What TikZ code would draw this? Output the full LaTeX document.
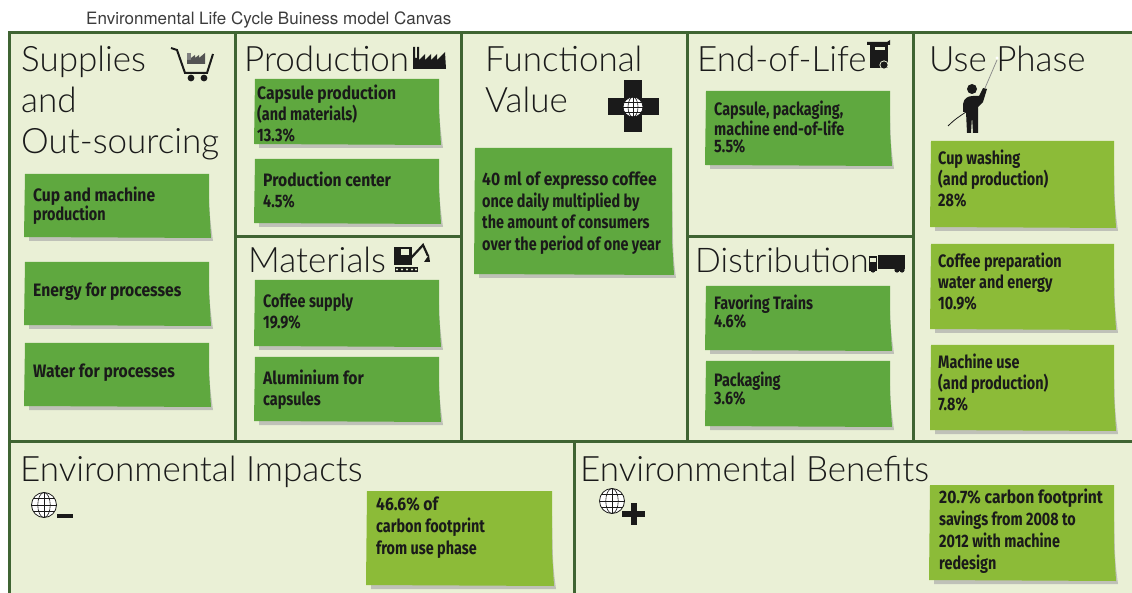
\documentclass[tikz,border=0pt]{standalone}
\usepackage{fontspec}
\setmainfont{Lato Light}
\newfontfamily\capfont{TeX Gyre Heros}
\newfontfamily\notefont[FakeStretch=0.8,BoldFont={Fira Sans Bold}]{Fira Sans}
\newfontfamily\notewide[FakeStretch=0.87,BoldFont={Fira Sans Bold}]{Fira Sans}
\definecolor{frame}{HTML}{3F6432}
\definecolor{paper}{HTML}{EAF0D6}
\definecolor{noteA}{HTML}{5FA83F}
\definecolor{noteB}{HTML}{8CBB38}
\definecolor{noteshadow}{HTML}{BFC1B8}
\definecolor{ink}{HTML}{1A1A1A}
\tikzset{
  panel/.style={draw=frame,fill=paper,line width=3pt},
  head/.style={anchor=base west,inner sep=0pt,font=\fontsize{35}{35}\selectfont,text=ink},
  notetext/.style={anchor=north west,inner sep=0pt,align=left,text=ink,
     font=\notefont\bfseries\fontsize{18}{#1}\selectfont},
  notetext/.default=21,
  icon/.style={fill=ink,draw=none},
}
% name, x1,y1,x2,y2, colour, text x, text y, leading, text
\newcommand\stickynote[9]{%
  \fill[noteshadow] (#2+4,#5-6) -- (#4,#3+25) .. controls (#4+1,#5-20) .. (#4+4,#5+3) -- (#2+4,#5+3) -- cycle;
  \fill[#6] (#2,#3) -- (#4,#3) -- (#4,#5-35) .. controls (#4+.5,#5-18) .. (#4+2,#5) -- (#2-1,#5-1) -- cycle;
  \node[notetext=#9] (#1) at (#7,#8)
}
\newcommand\globeicon[3]{%
  \begin{scope}[shift={(#1,#2)}]
    \fill[white] (0,0) circle[radius=#3];
    \draw[ink,line width=.8pt] (0,0) circle[radius=#3];
    \draw[ink,line width=.6pt] (0,0) ellipse[x radius=.5*#3,y radius=#3];
    \draw[ink,line width=.6pt] (0,-#3) -- (0,#3) (-#3,0) -- (#3,0);
    \draw[ink,line width=.6pt] (-.87*#3,-.5*#3) -- (.87*#3,-.5*#3) (-.87*#3,.5*#3) -- (.87*#3,.5*#3);
  \end{scope}}
\begin{document}
\begin{tikzpicture}[x=1pt,y=-1pt]
\useasboundingbox (0,0) rectangle (1132,593);
\fill[white] (0,0) rectangle (1132,593);

% panels
\draw[panel] (9,33) rectangle (235,441);
\draw[panel] (235,33) rectangle (461,237);
\draw[panel] (235,237) rectangle (461,441);
\draw[panel] (461,33) rectangle (687,441);
\draw[panel] (687,33) rectangle (913,237);
\draw[panel] (687,237) rectangle (913,441);
\draw[panel] (913,33) rectangle (1136,441);
\draw[panel] (9,441) rectangle (574,600);
\draw[panel] (574,441) rectangle (1136,600);

% caption
\node[anchor=base west,inner sep=0pt,font=\capfont\fontsize{17}{17}\selectfont,text=ink!85] (caption) at (86,25) {Environmental Life Cycle Buiness model Canvas};

% headings
\node[head] (h1a) at (21,72) {Supplies};
\node[head] (h1b) at (21,113) {and};
\node[head] (h1c) at (21,154) {Out-sourcing};
\node[head] (h2) at (244,72) {Production};
\node[head] (h3) at (248,273) {Materials};
\node[head] (h4a) at (485,72) {Functional};
\node[head] (h4b) at (485,113) {Value};
\node[head] (h5) at (697,72) {End-of-Life};
\node[head,font=\fontsize{34}{34}\selectfont] (h6) at (695,273) {Distribution};
\node[head] (h7) at (929,72) {Use Phase};
\node[head] (h8) at (20,481) {Environmental Impacts};
\node[head] (h9) at (580,481) {Environmental Benefits};

% notes
\stickynote{n1}{25}{174}{209}{238}{noteA}{33}{187}{19}{\notewide Cup and machine\\production};
\stickynote{n2}{25}{262}{209}{326}{noteA}{33}{283}{19}{\notewide Energy for processes};
\stickynote{n3}{25}{343}{209}{407}{noteA}{33}{364}{19}{\notewide Water for processes};
\stickynote{n4}{255}{79}{439}{145}{noteA}{257}{85}{21}{\notewide Capsule production\\(and materials)\\13.3\%};
\stickynote{n5}{255}{159}{439}{224}{noteA}{263}{172}{21}{\notewide Production center\\4.5\%};
\stickynote{n6}{255}{280}{439}{347}{noteA}{263}{294}{21}{Coffee supply\\19.9\%};
\stickynote{n7}{255}{357}{439}{422}{noteA}{263}{370}{21}{\notewide Aluminium for\\capsules};
\stickynote{n8}{475}{148}{672}{275}{noteA}{482}{172}{21.5}{\notewide 40 ml of expresso coffee\\once daily multiplied by\\the amount of consumers\\{\notefont over the period of one year}};
\stickynote{n9}{706}{91}{890}{166}{noteA}{714}{101}{17.5}{Capsule, packaging,\\machine end-of-life\\5.5\%};
\stickynote{n10}{706}{286}{890}{351}{noteA}{714}{295}{17.5}{Favoring Trains\\4.6\%};
\stickynote{n11}{706}{361}{890}{427}{noteA}{714}{372}{17.5}{Packaging\\3.6\%};
\stickynote{n12}{931}{141}{1114}{228}{noteB}{938}{150}{21}{Cup washing\\(and production)\\28\%};
\stickynote{n13}{931}{244}{1114}{330}{noteB}{938}{253}{21}{Coffee preparation\\water and energy\\10.9\%};
\stickynote{n14}{931}{345}{1114}{431}{noteB}{938}{354}{21}{Machine use\\(and production)\\7.8\%};
\stickynote{n15}{367}{491}{552}{586}{noteB}{376}{497}{22}{\notewide 46.6\% of\\carbon footprint\\from use phase};
\stickynote{n16}{930}{485}{1114}{581}{noteB}{939}{489}{22}{\notewide 20.7\% carbon footprint\\savings from 2008 to\\2012 with machine\\redesign};

% cart
\draw[ink,line width=2pt] (171,48) -- (177,50) -- (185,73) -- (207,73) -- (213,54);
\fill[ink] (191,78) circle[radius=3.4] (204,78) circle[radius=3.4];
\fill[ink!55] (187,53) rectangle (191,64);
\fill[ink!75] (187,64) -- (187,60) -- (191,60) -- (191,58) -- (195,55) -- (195,58) -- (199,55) -- (199,58) -- (205,53) -- (205,64) -- cycle;

% factory
\fill[ink] (413,69) -- (413,47) -- (415,47) -- (415,58) -- (417,58) -- (417,47) -- (419,47) -- (419,60)
  -- (425,54) -- (425,60) -- (431,54) -- (431,60) -- (437,54) -- (437,60) -- (445,52) -- (446,69) -- cycle;

% excavator
\fill[ink] (394,247) rectangle (412,265);
\fill[paper] (401,249) rectangle (409,255);
\fill[ink] (395,267) rectangle (418,272);
\foreach \i in {397,402,407,412,416} {\fill[paper] (\i,269.5) circle[radius=1.2];}
\draw[ink,line width=2.2pt] (411,258) -- (423,245) -- (428,256);
\fill[ink] (429,255) -- (430,262) -- (424,262) -- (426,259) -- cycle;

% functional cross + globe
\fill[ink] (624,80) rectangle (642,132);
\fill[ink] (608,98) rectangle (659,115);
\globeicon{633}{107}{10}

% bin
\fill[ink] (870,44) rectangle (888,68);
\fill[ink] (867,42) -- (887,42) -- (890,40) -- (890,45) -- (867,45) -- cycle;
\fill[paper] (875,47) rectangle (885,50);
\fill[paper] (884,65) circle[radius=4.6];
\fill[ink] (884,65) circle[radius=3.6];

% truck
\fill[ink] (869,256) rectangle (877,271);
\fill[paper] (870,258) rectangle (876,262);
\fill[ink] (878,255) rectangle (905,269);
\fill[ink] (873,270) circle[radius=2.6] (897,270) circle[radius=2.6] (902,270) circle[radius=2.6];

% person with pole
\fill[ink] (972,89) circle[radius=5];
\fill[ink] (963,104) .. controls (964,98) and (968,96) .. (973,96) -- (979,96) -- (983,88) -- (987,89) -- (983,102) -- (978,107)
  -- (978,133) -- (973,133) -- (972,116) -- (971,133) -- (967,133) -- (966,112) -- (963,112) -- cycle;
\draw[ink,line width=.8pt] (948,126) .. controls (955,119) and (960,116) .. (966,112);
\draw[ink!50,line width=.8pt] (985,88) -- (997,60);
\fill[white] (997,58) circle[radius=1.6];

% globes
\globeicon{44}{505}{12.5}
\fill[ink] (57,514) rectangle (73,518);
\globeicon{612}{501}{12.5}
\fill[ink] (622,511) rectangle (645,517);
\fill[ink] (631,503) rectangle (637,525);
\end{tikzpicture}
\end{document}
